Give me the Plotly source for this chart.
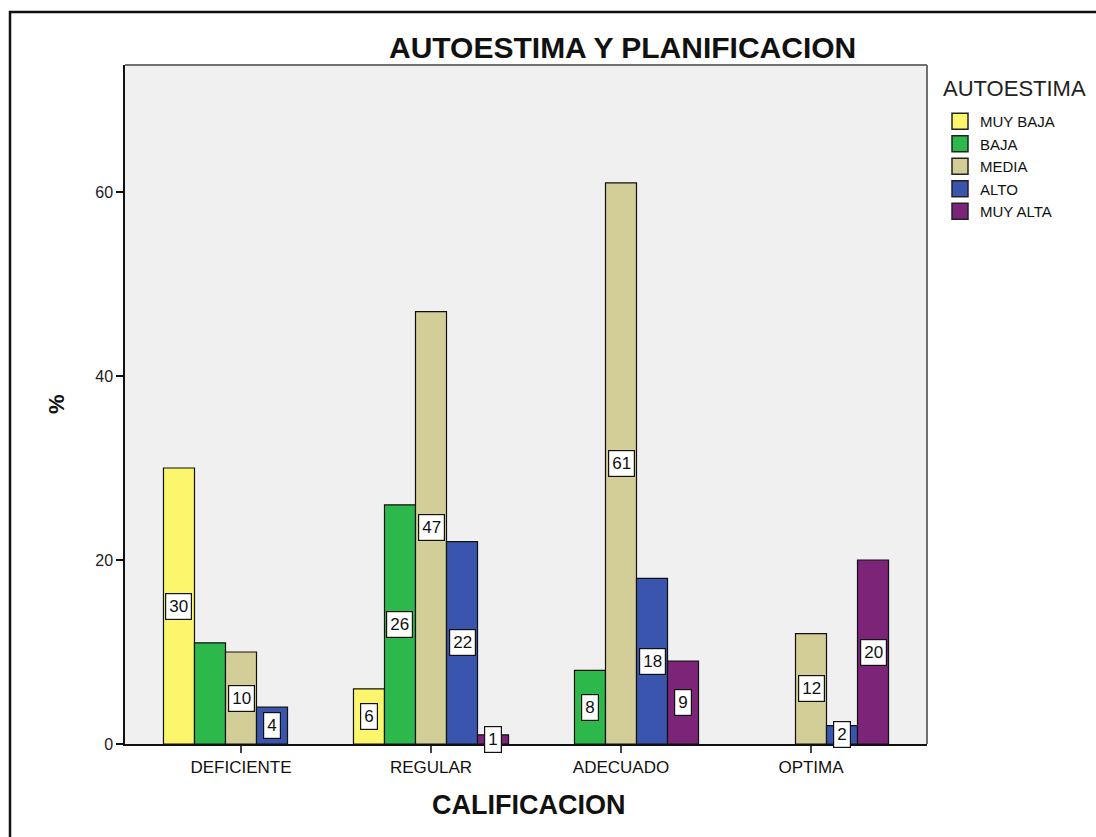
import plotly.graph_objects as go

# Categories and series (percent)
categorias = ["DEFICIENTE", "REGULAR", "ADECUADO", "OPTIMA"]
niveles = ["MUY BAJA", "BAJA", "MEDIA", "ALTO", "MUY ALTA"]
muy_baja = [30, 6, 0, 0]
baja = [11, 26, 8, 0]
media = [10, 47, 61, 12]
alto = [4, 22, 18, 2]
muy_alta = [0, 1, 9, 20]
y_ticks = [0, 20, 40, 60]

series = [muy_baja, baja, media, alto, muy_alta]
colores = ["#FBF66C", "#2DB84B", "#D3CE98", "#3A55AD", "#7B2478"]
sin_etiqueta = {("DEFICIENTE", "BAJA")}

FONT = "Liberation Sans, Arial, sans-serif"
W, H = 1096, 837
L, R, T, B = 125, 169, 65, 93
plot_w = W - L - R
plot_h = H - T - B

BARGAP = 0.184
n = len(niveles)
bar_w = (1 - BARGAP) / n

fig = go.Figure()
for nombre, vals, col in zip(niveles, series, colores):
    # empty groups are left out rather than drawn as flat bars
    fig.add_trace(go.Bar(
        name=nombre, x=categorias, y=[v if v else None for v in vals],
        marker=dict(color=col, line=dict(color="#111111", width=1.2)),
        hoverinfo="x+y+name", showlegend=False,
    ))
# legend entries with larger square swatches
for nombre, col in zip(niveles, colores):
    fig.add_trace(go.Scatter(
        name=nombre, x=[None], y=[None], mode="markers",
        marker=dict(symbol="square", size=16, color=col,
                    line=dict(color="#222222", width=1.5)),
        hoverinfo="skip",
    ))

# Value boxes in the middle of each bar
annotations = []
for i, (nombre, vals) in enumerate(zip(niveles, series)):
    for j, (cat, v) in enumerate(zip(categorias, vals)):
        if v == 0 or (cat, nombre) in sin_etiqueta:
            continue
        annotations.append(dict(
            x=j + (i - (n - 1) / 2) * bar_w, y=v / 2, xref="x", yref="y",
            text=str(v), showarrow=False,
            font=dict(family=FONT, size=17, color="#111111"),
            bgcolor="white", bordercolor="#111111", borderwidth=1.2, borderpad=3,
        ))

def px_x(p):
    return (p - L) / plot_w

def px_y(p):
    return (H - B - p) / plot_h

annotations += [
    dict(text="<b>AUTOESTIMA Y PLANIFICACION</b>", x=px_x(622), y=px_y(47),
         xref="paper", yref="paper", showarrow=False, xanchor="center", yanchor="middle",
         font=dict(family=FONT, size=30, color="#111111")),
    dict(text="<b>CALIFICACION</b>", x=px_x(528), y=px_y(805),
         xref="paper", yref="paper", showarrow=False, xanchor="center", yanchor="middle",
         font=dict(family=FONT, size=27, color="#111111")),
    dict(text="<b>%</b>", x=px_x(56), y=px_y(404), textangle=-90,
         xref="paper", yref="paper", showarrow=False, xanchor="center", yanchor="middle",
         font=dict(family=FONT, size=22, color="#111111")),
    # legend heading
    dict(text="AUTOESTIMA", x=px_x(941), y=px_y(88),
         xref="paper", yref="paper", showarrow=False, xanchor="left", yanchor="middle",
         font=dict(family=FONT, size=22, color="#222222")),
]

shapes = [
    # outer frame
    dict(type="rect", xref="paper", yref="paper",
         x0=px_x(10), x1=px_x(1200), y0=px_y(900), y1=px_y(12),
         line=dict(color="#111111", width=2.5), fillcolor="rgba(0,0,0,0)", layer="below"),
    # top and right edges of the plot frame
    dict(type="line", xref="paper", yref="paper", x0=0, x1=1, y0=1, y1=1,
         line=dict(color="#707070", width=2)),
    dict(type="line", xref="paper", yref="paper", x0=1, x1=1, y0=0, y1=1,
         line=dict(color="#707070", width=2)),
]

fig.update_layout(
    width=W, height=H,
    margin=dict(l=L, r=R, t=T, b=B, pad=0),
    paper_bgcolor="white", plot_bgcolor="#F0F0F0",
    barmode="group", bargap=BARGAP, bargroupgap=0,
    showlegend=True,
    legend=dict(
        x=px_x(940), y=px_y(105), xanchor="left", yanchor="top",
        font=dict(family=FONT, size=15, color="#111111"),
        bgcolor="rgba(0,0,0,0)", tracegroupgap=0, itemclick=False,
    ),
    annotations=annotations, shapes=shapes,
    xaxis=dict(
        range=[-(116 / 190), 3 + 116 / 190],
        showline=True, linecolor="#111111", linewidth=1.5,
        ticks="outside", ticklen=7, tickcolor="#444444", tickwidth=1.5,
        tickfont=dict(family=FONT, size=17, color="#111111"),
        showgrid=False, zeroline=False, fixedrange=True,
    ),
    yaxis=dict(
        range=[0, (H - B - T) / 9.2],
        tickvals=y_ticks, ticktext=[str(v) for v in y_ticks],
        showline=True, linecolor="#111111", linewidth=1.5,
        ticks="outside", ticklen=7, tickcolor="#111111", tickwidth=1.5,
        tickfont=dict(family=FONT, size=16, color="#222222"),
        showgrid=False, zeroline=False, fixedrange=True,
    ),
)

fig.write_html("out.html")
